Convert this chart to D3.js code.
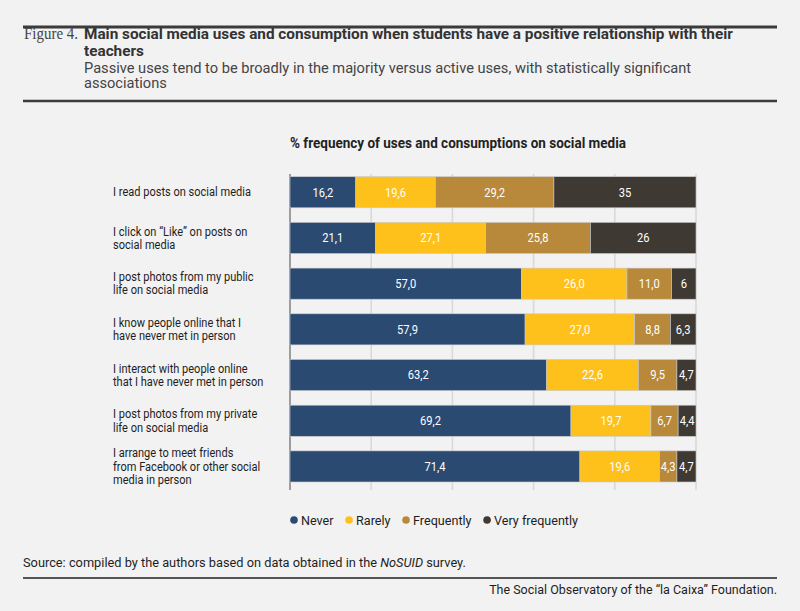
<!DOCTYPE html>
<html>
<head>
<meta charset="utf-8">
<script src="https://cdn.jsdelivr.net/npm/d3@7"></script>
<style>
  html, body { margin: 0; padding: 0; background: #f2f2f2; }
  svg { display: block; }
</style>
</head>
<body>
<svg id="chart" width="800" height="611"></svg>
<script>
// ---- data ----
const categories = [
  "I read posts on social media",
  "I click on “Like” on posts on\nsocial media",
  "I post photos from my public\nlife on social media",
  "I know people online that I\nhave never met in person",
  "I interact with people online\nthat I have never met in person",
  "I post photos from my private\nlife on social media",
  "I arrange to meet friends\nfrom Facebook or other social\nmedia in person"
];
const seriesNames = ["Never", "Rarely", "Frequently", "Very frequently"];
const never          = ["16,2", "21,1", "57,0", "57,9", "63,2", "69,2", "71,4"];
const rarely         = ["19,6", "27,1", "26,0", "27,0", "22,6", "19,7", "19,6"];
const frequently     = ["29,2", "25,8", "11,0", "8,8",  "9,5",  "6,7",  "4,3"];
const veryFrequently = ["35",   "26",   "6",    "6,3",  "4,7",  "4,4",  "4,7"];
const xTicks = [20, 40, 60, 80, 100];
const colors = ["#2a4a72", "#fec01b", "#b8893b", "#3f3934"];

const titleLines = ["Main social media uses and consumption when students have a positive relationship with their", "teachers"];
const subtitleLines = ["Passive uses tend to be broadly in the majority versus active uses, with statistically significant", "associations"];
const chartTitle = "% frequency of uses and consumptions on social media";

// ---- build table ----
const seriesRaw = [never, rarely, frequently, veryFrequently];
const rows = categories.map((c, i) => {
  const o = { category: c };
  seriesNames.forEach((s, j) => {
    o[s] = +seriesRaw[j][i].replace(",", ".");
    o[s + "_label"] = seriesRaw[j][i];
  });
  return o;
});
const stacked = d3.stack().keys(seriesNames)(rows);

const svg = d3.select("#chart");
const SANS = "Roboto, 'Noto Sans', sans-serif";

function measure(str, font, size, weight, style) {
  const t = svg.append("text").attr("font-family", font).attr("font-size", size)
    .attr("font-weight", weight || 400).attr("font-style", style || "normal").text(str);
  const w = t.node().getComputedTextLength();
  t.remove();
  return w;
}
function txt(parent, x, y, str, opts) {
  return parent.append("text")
    .attr("transform", `translate(${x},${y}) scale(${opts.k || 1},1)`)
    .attr("font-family", opts.font || SANS)
    .attr("font-size", opts.size)
    .attr("font-weight", opts.weight || 400)
    .attr("fill", opts.fill || "#222")
    .attr("text-anchor", opts.anchor || "start")
    .text(str);
}
function multiTxt(parent, x, y, lines, lineH, opts) {
  const t = parent.append("text")
    .attr("transform", `translate(${x},${y}) scale(${opts.k || 1},1)`)
    .attr("font-family", opts.font || SANS)
    .attr("font-size", opts.size)
    .attr("font-weight", opts.weight || 400)
    .attr("fill", opts.fill || "#222");
  lines.forEach((l, i) => t.append("tspan").attr("x", 0).attr("y", i * lineH).text(l));
  return t;
}

// ---- header ----
svg.append("line").attr("x1", 23).attr("x2", 777).attr("y1", 27).attr("y2", 27)
  .attr("stroke", "#3b3b3b").attr("stroke-width", 3);
svg.append("line").attr("x1", 23).attr("x2", 777).attr("y1", 101).attr("y2", 101)
  .attr("stroke", "#3b3b3b").attr("stroke-width", 2.5);

const kFig = 54 / measure("Figure 4.", "'Liberation Serif', serif", 16.5, 400);
txt(svg, 24, 39, "Figure 4.", { font: "'Liberation Serif', 'DejaVu Serif', serif", size: 16.5, fill: "#444", k: kFig });

const kTitle = 649 / measure(titleLines[0], SANS, 14.5, 700);
multiTxt(svg, 84, 39, titleLines, 17, { size: 14.5, weight: 700, fill: "#333", k: kTitle });
const kSub = 608 / measure(subtitleLines[0], SANS, 14.5, 400);
multiTxt(svg, 84, 72.5, subtitleLines, 16, { size: 14.5, fill: "#444", k: kSub });

// ---- chart ----
const x = d3.scaleLinear().domain([0, 100]).range([290, 696]);
const y = d3.scaleBand().domain(categories).range([169.4, 489.3]).paddingInner(0.32).paddingOuter(0.16);
const gridTop = 174, gridBottom = 490;

const kCT = 336 / measure(chartTitle, SANS, 14, 700);
txt(svg, 290, 148, chartTitle, { size: 14, weight: 700, fill: "#222", k: kCT });

svg.append("g").selectAll("line").data(xTicks).join("line")
  .attr("x1", d => x(d)).attr("x2", d => x(d))
  .attr("y1", gridTop).attr("y2", gridBottom)
  .attr("stroke", "#d9d9d9").attr("stroke-width", 1.6);

svg.append("line").attr("x1", x(0)).attr("x2", x(0)).attr("y1", gridTop).attr("y2", gridBottom)
  .attr("stroke", "#6e6e6e").attr("stroke-width", 1.3);

const gBars = svg.append("g");
stacked.forEach((layer, j) => {
  gBars.append("g").selectAll("rect").data(layer).join("rect")
    .attr("x", d => x(d[0]))
    .attr("width", d => x(d[1]) - x(d[0]))
    .attr("y", d => y(d.data.category))
    .attr("height", y.bandwidth())
    .attr("fill", colors[j])
    .attr("stroke", "#c8c8c8").attr("stroke-width", 0.6);
});

const kVal = 21 / measure("16,2", SANS, 12.5, 400);
stacked.forEach((layer, j) => {
  const g = svg.append("g");
  layer.forEach(d => {
    txt(g, (x(d[0]) + x(d[1])) / 2, y(d.data.category) + y.bandwidth() / 2 + 4.4,
      d.data[seriesNames[j] + "_label"], { size: 12.5, fill: "#ffffff", anchor: "middle", k: kVal });
  });
});

// category labels
const kLab = 138 / measure("I read posts on social media", SANS, 13.5, 400);
const lh = 13.3;
const gLab = svg.append("g");
categories.forEach(c => {
  const lines = c.split("\n");
  const cy = y(c) + y.bandwidth() / 2;
  const first = cy - (lines.length - 1) * lh / 2 + 4.2;
  multiTxt(gLab, 113, first, lines, lh, { size: 13.5, fill: "#1e1e1e", k: kLab });
});

// legend
const kLeg = 84 / measure("Very frequently", SANS, 13.5, 400);
let lx = 294;
const legY = 520;
seriesNames.forEach((s, j) => {
  svg.append("circle").attr("cx", lx).attr("cy", legY).attr("r", 3.8).attr("fill", colors[j]);
  txt(svg, lx + 7, legY + 4.7, s, { size: 13.5, fill: "#1e1e1e", k: kLeg });
  const w = measure(s, SANS, 13.5, 400) * kLeg;
  lx = lx + 7 + w + 15.5;
});

// ---- footer ----
const srcA = "Source: compiled by the authors based on data obtained in the ";
const srcB = "NoSUID";
const srcC = " survey.";
const srcW = measure(srcA, SANS, 13.5) + measure(srcB, SANS, 13.5, 400, "italic") + measure(srcC, SANS, 13.5);
const kSrc = 437 / srcW;
const src = svg.append("text")
  .attr("transform", `translate(23,567) scale(${kSrc},1)`)
  .attr("font-family", SANS).attr("font-size", 13.5).attr("fill", "#1e1e1e");
src.append("tspan").text(srcA);
src.append("tspan").attr("font-style", "italic").text(srcB);
src.append("tspan").text(srcC);

svg.append("line").attr("x1", 23).attr("x2", 777).attr("y1", 578).attr("y2", 578)
  .attr("stroke", "#555").attr("stroke-width", 2);

const foot = "The Social Observatory of the “la Caixa” Foundation.";
const kFoot = 288 / measure(foot, SANS, 13.5, 400);
txt(svg, 777, 594, foot, { size: 13.5, fill: "#1e1e1e", anchor: "end", k: kFoot });
</script>
</body>
</html>
